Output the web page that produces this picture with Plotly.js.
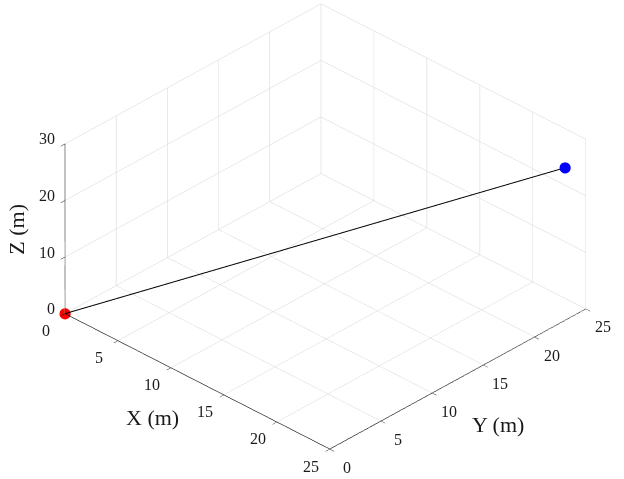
<!DOCTYPE html>
<html>
<head>
<meta charset="utf-8">
<script src="https://cdn.plot.ly/plotly-3.0.0.min.js"></script>
<style>html,body{margin:0;padding:0;background:#fff;}#chart{width:624px;height:479px;}</style>
</head>
<body>
<div id="chart"></div>
<script>
// Path from start (red) to end (blue)
const pathX = [0, 24];
const pathY = [0, 24];
const pathZ = [0, 25];
const startX = [0], startY = [0], startZ = [0];
const endX = [24], endY = [24], endZ = [25];
const xTicks = [0, 5, 10, 15, 20, 25];
const yTicks = [0, 5, 10, 15, 20, 25];
const zTicks = [0, 10, 20, 30];
const xTitle = 'X (m)', yTitle = 'Y (m)', zTitle = 'Z (m)';

const fontFam = '"Liberation Serif", "Times New Roman", serif';
const txtColor = '#1a1a1a';

const traces = [
  {type: 'scatter3d', mode: 'lines', x: pathX, y: pathY, z: pathZ,
   line: {color: '#000000', width: 2}, hoverinfo: 'skip', showlegend: false},
  {type: 'scatter3d', mode: 'markers', x: startX, y: startY, z: startZ,
   marker: {color: '#ff0000', size: 6.5, line: {width: 0}}, hoverinfo: 'skip', showlegend: false},
  {type: 'scatter3d', mode: 'markers', x: endX, y: endY, z: endZ,
   marker: {color: '#0000ff', size: 6.5, line: {width: 0}}, hoverinfo: 'skip', showlegend: false}
];

function ax(range, ticks) {
  return {
    title: {text: ''},
    range: range, autorange: false,
    tickvals: ticks, showticklabels: false,
    showline: true, linecolor: '#1a1a1a', linewidth: 1.5,
    ticks: 'outside', tickcolor: '#1a1a1a', ticklen: 6,
    showgrid: true, gridcolor: '#d4d4d4', gridwidth: 1,
    zeroline: false, showbackground: false, showspikes: false
  };
}

const tickFont = {family: fontFam, size: 16, color: txtColor};
const titleFont = {family: fontFam, size: 22, color: txtColor};
const anns = [];
xTicks.forEach(function(v) {
  anns.push({x: v, y: 0, z: 0, text: String(v), showarrow: false, font: tickFont,
             xanchor: 'center', yanchor: 'middle', xshift: -19, yshift: -17});
});
yTicks.forEach(function(v) {
  anns.push({x: 25, y: v, z: 0, text: String(v), showarrow: false, font: tickFont,
             xanchor: 'center', yanchor: 'middle', xshift: 17, yshift: -18});
});
zTicks.forEach(function(v) {
  anns.push({x: 0, y: 0, z: v, text: String(v), showarrow: false, font: tickFont,
             xanchor: 'right', yanchor: 'middle', xshift: -8, yshift: 5});
});
anns.push({x: 12.5, y: 0, z: 0, text: xTitle, showarrow: false, font: titleFont,
           xanchor: 'center', yanchor: 'middle', xshift: -45, yshift: -36});
anns.push({x: 25, y: 12.5, z: 0, text: yTitle, showarrow: false, font: titleFont,
           xanchor: 'center', yanchor: 'middle', xshift: 40, yshift: -45});
anns.push({x: 0, y: 0, z: 15, text: zTitle, showarrow: false, font: titleFont, textangle: -90,
           xanchor: 'center', yanchor: 'middle', xshift: -48, yshift: 0});

const s = 1.538;
const layout = {
  width: 624, height: 479,
  margin: {l: 0, r: 0, t: 0, b: 0},
  paper_bgcolor: '#ffffff',
  showlegend: false,
  hovermode: false,
  scene: {
    domain: {x: [0, 1], y: [0, 1]},
    xaxis: ax([0, 25], xTicks),
    yaxis: ax([0, 25], yTicks),
    zaxis: ax([0, 30], zTicks),
    aspectmode: 'manual',
    aspectratio: {x: 1 * s, y: 1 * s, z: 0.543 * s},
    annotations: anns,
    camera: {
      projection: {type: 'orthographic'},
      up: {x: 0, y: 0, z: 1},
      center: {x: -0.041, y: -0.038, z: -0.065},
      eye: {x: 0.544 * 1.29, y: -0.625 * 1.29, z: 0.466 * 1.29}
    }
  }
};

Plotly.newPlot('chart', traces, layout, {displayModeBar: false});
</script>
</body>
</html>
